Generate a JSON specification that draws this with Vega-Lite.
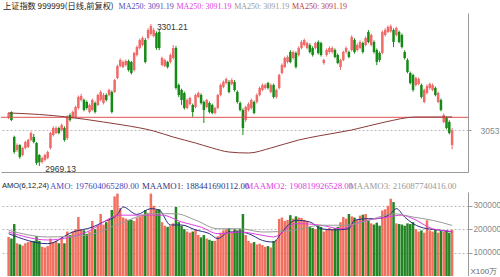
{
"$schema":"https://vega.github.io/schema/vega-lite/v6.json",
"padding":0,"spacing":0,"background":"white",
"config":{"view":{"stroke":null},"font":"Liberation Sans","concat":{"spacing":0}},
"resolve":{"scale":{"color":"independent","x":"independent"}},
"datasets":{
"k":[
{"i":0,"o":3081.4,"h":3095,"l":3079,"c":3093.1,"v":167000},
{"i":1,"o":3095.4,"h":3097,"l":3074,"c":3076.7,"v":160000},
{"i":2,"o":3036.9,"h":3040,"l":2998,"c":3001.8,"v":222000},
{"i":3,"o":3006.5,"h":3022,"l":3002,"c":3018.2,"v":140000},
{"i":4,"o":3018.2,"h":3020,"l":2986,"c":2990.1,"v":135000},
{"i":5,"o":2994.8,"h":3014,"l":2992,"c":3011.2,"v":130000},
{"i":6,"o":3011.2,"h":3028,"l":3008,"c":3025.2,"v":140000},
{"i":7,"o":3013.5,"h":3033,"l":3011,"c":3029.9,"v":145000},
{"i":8,"o":3029.9,"h":3050,"l":3027,"c":3046.3,"v":150000},
{"i":9,"o":3036.9,"h":3044,"l":3022,"c":3025.2,"v":150000},
{"i":10,"o":3022.9,"h":3025,"l":2972,"c":2976.1,"v":170000},
{"i":11,"o":2994.8,"h":2997,"l":2969.13,"c":2978,"v":150000},
{"i":12,"o":2978.5,"h":2991,"l":2975,"c":2987.8,"v":125000},
{"i":13,"o":2983.2,"h":2998,"l":2980,"c":2994.8,"v":122000},
{"i":14,"o":2987.8,"h":3005,"l":2985,"c":3001.8,"v":128000},
{"i":15,"o":3011.2,"h":3049,"l":3008,"c":3046.3,"v":160000},
{"i":16,"o":3041.6,"h":3062,"l":3038,"c":3058,"v":145000},
{"i":17,"o":3046.3,"h":3062,"l":3044,"c":3058,"v":150000},
{"i":18,"o":3058,"h":3061,"l":3043,"c":3046.3,"v":140000},
{"i":19,"o":3053.3,"h":3068,"l":3050,"c":3065,"v":165000},
{"i":20,"o":3058,"h":3062,"l":3026,"c":3029.9,"v":140000},
{"i":21,"o":3034.6,"h":3088,"l":3030,"c":3083.7,"v":190000},
{"i":22,"o":3088.4,"h":3092,"l":3073,"c":3076.7,"v":175000},
{"i":23,"o":3083.7,"h":3099,"l":3080,"c":3095.4,"v":190000},
{"i":24,"o":3083.7,"h":3110,"l":3081,"c":3107.1,"v":200000},
{"i":25,"o":3104.8,"h":3134,"l":3101,"c":3130.5,"v":252000},
{"i":26,"o":3123.5,"h":3138,"l":3120,"c":3132.8,"v":200000},
{"i":27,"o":3123.5,"h":3127,"l":3097,"c":3100.1,"v":195000},
{"i":28,"o":3118.8,"h":3122,"l":3101,"c":3104.8,"v":180000},
{"i":29,"o":3095.4,"h":3115,"l":3092,"c":3111.8,"v":190000},
{"i":30,"o":3100.1,"h":3127,"l":3098,"c":3123.5,"v":235000},
{"i":31,"o":3116.5,"h":3120,"l":3092,"c":3095.4,"v":200000},
{"i":32,"o":3111.8,"h":3138,"l":3109,"c":3135.2,"v":215000},
{"i":33,"o":3123.5,"h":3146,"l":3120,"c":3142.2,"v":265000},
{"i":34,"o":3116.5,"h":3140,"l":3113,"c":3135.2,"v":220000},
{"i":35,"o":3135.2,"h":3139,"l":3120,"c":3123.5,"v":230000},
{"i":36,"o":3135.2,"h":3150,"l":3132,"c":3146.9,"v":240000},
{"i":37,"o":3142.2,"h":3146,"l":3092,"c":3095.4,"v":282000},
{"i":38,"o":3142.2,"h":3173,"l":3140,"c":3170.2,"v":340000},
{"i":39,"o":3174.9,"h":3206,"l":3172,"c":3202.9,"v":352000},
{"i":40,"o":3203,"h":3221,"l":3200,"c":3217,"v":290000},
{"i":41,"o":3200.6,"h":3216,"l":3198,"c":3212.3,"v":250000},
{"i":42,"o":3205.3,"h":3218,"l":3202,"c":3214.6,"v":245000},
{"i":43,"o":3214.6,"h":3218,"l":3190,"c":3193.6,"v":240000},
{"i":44,"o":3212.3,"h":3215,"l":3183,"c":3186.6,"v":240000},
{"i":45,"o":3193.6,"h":3236,"l":3190,"c":3233.4,"v":235000},
{"i":46,"o":3228.7,"h":3251,"l":3225,"c":3247.4,"v":250000},
{"i":47,"o":3245.1,"h":3267,"l":3242,"c":3263.8,"v":255000},
{"i":48,"o":3252.1,"h":3272,"l":3249,"c":3268.5,"v":260000},
{"i":49,"o":3263.8,"h":3268,"l":3209,"c":3212.3,"v":282000},
{"i":50,"o":3268.5,"h":3291,"l":3265,"c":3287.2,"v":270000},
{"i":51,"o":3277.8,"h":3301.21,"l":3274,"c":3296.5,"v":352000},
{"i":52,"o":3273.2,"h":3292,"l":3270,"c":3287.2,"v":300000},
{"i":53,"o":3280.2,"h":3284,"l":3241,"c":3245.1,"v":282000},
{"i":54,"o":3282.5,"h":3290,"l":3240,"c":3245.1,"v":285000},
{"i":55,"o":3205.3,"h":3225,"l":3202,"c":3221.7,"v":230000},
{"i":56,"o":3203,"h":3220,"l":3200,"c":3217,"v":215000},
{"i":57,"o":3212.3,"h":3215,"l":3197,"c":3200.6,"v":210000},
{"i":58,"o":3212.3,"h":3232,"l":3209,"c":3228.7,"v":215000},
{"i":59,"o":3221.7,"h":3252,"l":3218,"c":3245.1,"v":225000},
{"i":60,"o":3245.1,"h":3250,"l":3148,"c":3151.5,"v":295000},
{"i":61,"o":3158.5,"h":3162,"l":3130,"c":3135.2,"v":230000},
{"i":62,"o":3146.9,"h":3150,"l":3112,"c":3123.5,"v":215000},
{"i":63,"o":3139.8,"h":3143,"l":3101,"c":3104.8,"v":200000},
{"i":64,"o":3104.8,"h":3127,"l":3102,"c":3123.5,"v":190000},
{"i":65,"o":3114,"h":3131,"l":3111,"c":3128.2,"v":185000},
{"i":66,"o":3111.8,"h":3115,"l":3084,"c":3095.4,"v":190000},
{"i":67,"o":3107.1,"h":3138,"l":3104,"c":3135.2,"v":200000},
{"i":68,"o":3130.5,"h":3143,"l":3128,"c":3139.8,"v":175000},
{"i":69,"o":3135.2,"h":3139,"l":3113,"c":3116.5,"v":165000},
{"i":70,"o":3118.8,"h":3122,"l":3069.7,"c":3100.1,"v":175000},
{"i":71,"o":3107.1,"h":3126,"l":3104,"c":3123.5,"v":160000},
{"i":72,"o":3116.5,"h":3120,"l":3092,"c":3095.4,"v":155000},
{"i":73,"o":3111.8,"h":3115,"l":3090,"c":3093.1,"v":150000},
{"i":74,"o":3093.1,"h":3108,"l":3090,"c":3104.8,"v":150000},
{"i":75,"o":3104.8,"h":3138,"l":3102,"c":3135.2,"v":170000},
{"i":76,"o":3135.2,"h":3162,"l":3132,"c":3158.5,"v":185000},
{"i":77,"o":3154,"h":3169,"l":3151,"c":3166,"v":195000},
{"i":78,"o":3163.2,"h":3176,"l":3160,"c":3172.5,"v":200000},
{"i":79,"o":3165.6,"h":3170,"l":3139,"c":3142.2,"v":205000},
{"i":80,"o":3161,"h":3174,"l":3158,"c":3170.2,"v":190000},
{"i":81,"o":3165.6,"h":3170,"l":3143,"c":3146.9,"v":200000},
{"i":82,"o":3142.2,"h":3146,"l":3115,"c":3118.8,"v":195000},
{"i":83,"o":3116.5,"h":3120,"l":3097,"c":3100.1,"v":200000},
{"i":84,"o":3100.1,"h":3104,"l":3041.6,"c":3058,"v":265000},
{"i":85,"o":3076.7,"h":3110,"l":3072,"c":3107.1,"v":175000},
{"i":86,"o":3100.1,"h":3118,"l":3097,"c":3114.1,"v":150000},
{"i":87,"o":3104.8,"h":3127,"l":3101,"c":3123.5,"v":140000},
{"i":88,"o":3118.8,"h":3122,"l":3090,"c":3093.1,"v":145000},
{"i":89,"o":3118.8,"h":3139,"l":3115,"c":3135.2,"v":135000},
{"i":90,"o":3135.2,"h":3155,"l":3132,"c":3151.5,"v":138000},
{"i":91,"o":3146.9,"h":3162,"l":3144,"c":3158.5,"v":132000},
{"i":92,"o":3151.5,"h":3162,"l":3148,"c":3158.5,"v":125000},
{"i":93,"o":3163.2,"h":3166,"l":3148,"c":3151.5,"v":128000},
{"i":94,"o":3142.2,"h":3162,"l":3139,"c":3158.5,"v":122000},
{"i":95,"o":3158.5,"h":3162,"l":3127,"c":3130.5,"v":150000},
{"i":96,"o":3130.5,"h":3150,"l":3127,"c":3146.9,"v":155000},
{"i":97,"o":3151.5,"h":3185,"l":3148,"c":3181.9,"v":244000},
{"i":98,"o":3186.6,"h":3209,"l":3183,"c":3205.3,"v":250000},
{"i":99,"o":3200.6,"h":3225,"l":3198,"c":3221.7,"v":235000},
{"i":100,"o":3212.3,"h":3228,"l":3209,"c":3224,"v":240000},
{"i":101,"o":3235.7,"h":3240,"l":3209,"c":3212.3,"v":260000},
{"i":102,"o":3221.7,"h":3239,"l":3218,"c":3235.7,"v":245000},
{"i":103,"o":3233.4,"h":3237,"l":3197,"c":3200.6,"v":255000},
{"i":104,"o":3228.7,"h":3249,"l":3225,"c":3245.1,"v":250000},
{"i":105,"o":3245.1,"h":3263,"l":3242,"c":3259.1,"v":248000},
{"i":106,"o":3252.1,"h":3267,"l":3249,"c":3263.8,"v":240000},
{"i":107,"o":3245.1,"h":3260,"l":3242,"c":3256.8,"v":235000},
{"i":108,"o":3252.1,"h":3256,"l":3232,"c":3235.7,"v":210000},
{"i":109,"o":3245.1,"h":3249,"l":3225,"c":3228.7,"v":205000},
{"i":110,"o":3245.1,"h":3260,"l":3242,"c":3256.8,"v":200000},
{"i":111,"o":3259.1,"h":3263,"l":3230,"c":3233.4,"v":215000},
{"i":112,"o":3256.8,"h":3260,"l":3225,"c":3228.7,"v":210000},
{"i":113,"o":3210,"h":3220,"l":3206,"c":3217,"v":190000},
{"i":114,"o":3228.7,"h":3244,"l":3225,"c":3240.4,"v":200000},
{"i":115,"o":3235.7,"h":3249,"l":3232,"c":3245.1,"v":205000},
{"i":116,"o":3235.7,"h":3249,"l":3232,"c":3245.1,"v":200000},
{"i":117,"o":3240.4,"h":3244,"l":3221,"c":3224,"v":205000},
{"i":118,"o":3228.7,"h":3232,"l":3207,"c":3210,"v":210000},
{"i":119,"o":3200.6,"h":3220,"l":3193.6,"c":3217,"v":230000},
{"i":120,"o":3217,"h":3239,"l":3214,"c":3235.7,"v":252000},
{"i":121,"o":3235.7,"h":3249,"l":3232,"c":3245.1,"v":245000},
{"i":122,"o":3235.7,"h":3239,"l":3221,"c":3224,"v":265000},
{"i":123,"o":3240.4,"h":3275,"l":3237,"c":3270.8,"v":255000},
{"i":124,"o":3263.8,"h":3268,"l":3232,"c":3235.7,"v":250000},
{"i":125,"o":3240.4,"h":3256,"l":3237,"c":3252.1,"v":240000},
{"i":126,"o":3245.1,"h":3263,"l":3242,"c":3259.1,"v":258000},
{"i":127,"o":3256.8,"h":3260,"l":3232,"c":3235.7,"v":262000},
{"i":128,"o":3252.1,"h":3272,"l":3249,"c":3268.5,"v":265000},
{"i":129,"o":3282.5,"h":3287,"l":3256,"c":3259.1,"v":235000},
{"i":130,"o":3252.1,"h":3279,"l":3249,"c":3275.5,"v":225000},
{"i":131,"o":3259.1,"h":3263,"l":3232,"c":3235.7,"v":220000},
{"i":132,"o":3240.4,"h":3244,"l":3205,"c":3212.3,"v":228000},
{"i":133,"o":3233.4,"h":3237,"l":3212,"c":3217,"v":215000},
{"i":134,"o":3233.4,"h":3286,"l":3230,"c":3282.5,"v":280000},
{"i":135,"o":3275.5,"h":3291,"l":3272,"c":3287.2,"v":285000},
{"i":136,"o":3282.5,"h":3298,"l":3280,"c":3294.2,"v":300000},
{"i":137,"o":3284,"h":3300,"l":3281,"c":3296,"v":330000},
{"i":138,"o":3287.2,"h":3291,"l":3247,"c":3259.1,"v":316000},
{"i":139,"o":3275.5,"h":3295,"l":3272,"c":3292,"v":225000},
{"i":140,"o":3282.5,"h":3286,"l":3256,"c":3259.1,"v":222000},
{"i":141,"o":3275.5,"h":3279,"l":3244,"c":3247.4,"v":220000},
{"i":142,"o":3235.7,"h":3240,"l":3218,"c":3221.7,"v":215000},
{"i":143,"o":3217,"h":3221,"l":3186,"c":3188.9,"v":225000},
{"i":144,"o":3186.6,"h":3190,"l":3160,"c":3163.2,"v":222000},
{"i":145,"o":3181.9,"h":3185,"l":3143,"c":3146.9,"v":230000},
{"i":146,"o":3158.5,"h":3178,"l":3155,"c":3174.9,"v":200000},
{"i":147,"o":3161,"h":3176,"l":3158,"c":3172.5,"v":190000},
{"i":148,"o":3158.5,"h":3162,"l":3127,"c":3130.5,"v":195000},
{"i":149,"o":3118.8,"h":3150,"l":3116,"c":3146.9,"v":185000},
{"i":150,"o":3139.8,"h":3160,"l":3136,"c":3156.2,"v":238000},
{"i":151,"o":3151.5,"h":3164,"l":3148,"c":3161,"v":195000},
{"i":152,"o":3146.9,"h":3162,"l":3144,"c":3158.5,"v":190000},
{"i":153,"o":3151.5,"h":3155,"l":3132,"c":3135.2,"v":200000},
{"i":154,"o":3118.8,"h":3143,"l":3116,"c":3139.8,"v":185000},
{"i":155,"o":3123.5,"h":3127,"l":3097,"c":3100.1,"v":195000},
{"i":156,"o":3072,"h":3092,"l":3069,"c":3088.4,"v":190000},
{"i":157,"o":3081.4,"h":3085,"l":3055,"c":3058,"v":195000},
{"i":158,"o":3072,"h":3076,"l":3043,"c":3046.3,"v":185000},
{"i":159,"o":3018.2,"h":3058,"l":3008,"c":3053.3,"v":197604}
],
"ma":[
{"i":0,"m":3093.1},{"i":11,"m":3089.6},{"i":21,"m":3083.7},{"i":34,"m":3072},{"i":41,"m":3065},{"i":52,"m":3051},{"i":59,"m":3036.9},{"i":67,"m":3022.9},{"i":73,"m":3011.2},{"i":79,"m":3001.8},{"i":86,"m":2999.5},{"i":94,"m":3011.2},{"i":104,"m":3029.9},{"i":111,"m":3039.3},{"i":123,"m":3053.3},{"i":135,"m":3072},{"i":146,"m":3083.7},{"i":158,"m":3083.7},{"i":159,"m":3084}
],
"vma":[
{"i":0,"s":"1","v":181000},{"i":14,"s":"1","v":138000},{"i":23,"s":"1","v":188000},{"i":30,"s":"1","v":209000},{"i":34,"s":"1","v":231000},{"i":39,"s":"1","v":263000},{"i":41,"s":"1","v":295000},{"i":46,"s":"1","v":263000},{"i":51,"s":"1","v":288000},{"i":54,"s":"1","v":282000},{"i":58,"s":"1","v":218000},{"i":62,"s":"1","v":218000},{"i":67,"s":"1","v":197000},{"i":72,"s":"1","v":181000},{"i":75,"s":"1","v":160000},{"i":79,"s":"1","v":188000},{"i":83,"s":"1","v":188000},{"i":86,"s":"1","v":181000},{"i":91,"s":"1","v":152000},{"i":95,"s":"1","v":145000},{"i":98,"s":"1","v":188000},{"i":103,"s":"1","v":238000},{"i":108,"s":"1","v":231000},{"i":112,"s":"1","v":202000},{"i":117,"s":"1","v":197000},{"i":122,"s":"1","v":202000},{"i":124,"s":"1","v":238000},{"i":129,"s":"1","v":245000},{"i":132,"s":"1","v":245000},{"i":137,"s":"1","v":266000},{"i":139,"s":"1","v":288000},{"i":142,"s":"1","v":252000},{"i":145,"s":"1","v":224000},{"i":150,"s":"1","v":202000},{"i":154,"s":"1","v":197000},{"i":159,"s":"1","v":188442},
{"i":0,"s":"2","v":188000},{"i":14,"s":"2","v":154000},{"i":28,"s":"2","v":188000},{"i":40,"s":"2","v":260000},{"i":46,"s":"2","v":260000},{"i":55,"s":"2","v":260000},{"i":62,"s":"2","v":231000},{"i":69,"s":"2","v":209000},{"i":75,"s":"2","v":181000},{"i":83,"s":"2","v":188000},{"i":91,"s":"2","v":174000},{"i":95,"s":"2","v":167000},{"i":103,"s":"2","v":224000},{"i":112,"s":"2","v":217000},{"i":119,"s":"2","v":202000},{"i":126,"s":"2","v":231000},{"i":136,"s":"2","v":252000},{"i":141,"s":"2","v":260000},{"i":145,"s":"2","v":245000},{"i":152,"s":"2","v":202000},{"i":159,"s":"2","v":190820},
{"i":0,"s":"3","v":195000},{"i":14,"s":"3","v":167000},{"i":28,"s":"3","v":174000},{"i":40,"s":"3","v":224000},{"i":51,"s":"3","v":266000},{"i":60,"s":"3","v":266000},{"i":67,"s":"3","v":239000},{"i":75,"s":"3","v":202000},{"i":83,"s":"3","v":202000},{"i":91,"s":"3","v":188000},{"i":102,"s":"3","v":195000},{"i":112,"s":"3","v":217000},{"i":121,"s":"3","v":217000},{"i":129,"s":"3","v":238000},{"i":138,"s":"3","v":266000},{"i":145,"s":"3","v":252000},{"i":152,"s":"3","v":238000},{"i":159,"s":"3","v":216088}
],
"h1":[
{"k":"a","t":"上证指数 999999(日线,前复权)"},
{"k":"b","t":"MA250: 3091.19"},
{"k":"c","t":"MA250: 3091.19"},
{"k":"d","t":"MA250: 3091.19"},
{"k":"e","t":"MA250: 3091.19"}
],
"h2":[
{"k":"a","t":"AMO(6,12,24)"},
{"k":"b","t":"AMO: 197604065280.00"},
{"k":"c","t":"MAAMO1: 188441690112.00"},
{"k":"d","t":"MAAMO2: 190819926528.00"},
{"k":"e","t":"MAAMO3: 216087740416.00"}
],
"ann":[
{"i":51,"p":3301.21,"t":"3301.21"},
{"i":11,"p":2969.13,"t":"2969.13"}
]
},
"vconcat":[
{"width":467,"height":13,
 "layer":[
  {"data":{"name":"h1"},"transform":[{"filter":"datum.k == 'a'"}],
   "mark":{"type":"text","align":"left","baseline":"middle","fontSize":8.2,"font":"Noto Sans CJK SC","dx":2},
   "encoding":{"x":{"field":"k","type":"nominal","axis":null,"scale":{"type":"point","domain":["a","x1","b","c","d","e"],"range":[0,289],"padding":0}},
    "text":{"field":"t"},"color":{"value":"#222222"}}},
  {"data":{"name":"h1"},"transform":[{"filter":"datum.k != 'a'"}],
   "mark":{"type":"text","align":"left","baseline":"middle","fontSize":8,"font":"Liberation Sans Narrow","dx":2},
   "encoding":{"x":{"field":"k","type":"nominal"},
    "text":{"field":"t"},
    "color":{"field":"k","legend":null,"scale":{"domain":["b","c","d","e"],"range":["#4a4ab8","#e040e0","#999999","#c03a3a"]}}}}
 ]},
{"width":467,"height":159,
 "layer":[
  {"data":{"name":"k"},"mark":{"type":"rule","strokeWidth":1},
   "encoding":{"x":{"field":"i","type":"quantitative","scale":{"domain":[-0.947,162.91],"nice":false,"zero":false},
     "axis":{"labels":false,"ticks":false,"grid":false,"domain":true,"domainColor":"#999","title":null}},
    "y":{"field":"l","type":"quantitative","scale":{"domain":[2955.1,3326.9],"nice":false,"zero":false},
     "axis":{"orient":"right","values":[3053],"format":"d","grid":true,"gridDash":[2,2],"gridColor":"#bbbbbb","domainColor":"#999","tickColor":"#999","labelColor":"#888","labelFontSize":8.5,"tickSize":3,"title":null,"labelPadding":9}},
    "y2":{"field":"h"},
    "color":{"condition":{"test":"datum.c >= datum.o","value":"#f06a6a"},"value":"#168a16"}}},
  {"data":{"name":"k"},"mark":{"type":"bar","size":2.5},
   "encoding":{"x":{"field":"i","type":"quantitative"},"y":{"field":"o","type":"quantitative"},"y2":{"field":"c"},
    "color":{"condition":{"test":"datum.c >= datum.o","value":"#f06a6a"},"value":"#168a16"}}},
  {"data":{"values":[{"p":3083}]},"mark":{"type":"rule","color":"#e05050","strokeWidth":1},"encoding":{"y":{"field":"p","type":"quantitative"}}},
  {"data":{"name":"ma"},"mark":{"type":"line","color":"#8b3a3a","strokeWidth":1,"interpolate":"monotone"},
   "encoding":{"x":{"field":"i","type":"quantitative"},"y":{"field":"m","type":"quantitative"}}},
  {"data":{"name":"ann"},"mark":{"type":"text","align":"left","baseline":"middle","dx":6,"dy":3,"fontSize":8.5,"color":"#333"},
   "encoding":{"x":{"field":"i","type":"quantitative"},"y":{"field":"p","type":"quantitative"},"text":{"field":"t"}}}
 ]},
{"width":467,"height":18,
 "layer":[
  {"data":{"name":"h2"},"transform":[{"filter":"datum.k == 'a'"}],
   "mark":{"type":"text","align":"left","baseline":"middle","fontSize":7.5,"dx":1,"dy":3,"color":"#222222"},
   "encoding":{"x":{"field":"k","type":"nominal","axis":null,"scale":{"type":"point","domain":["a","1","2","3","b","5","6","7","8","9","10","11","c","13","14","15","16","17","18","19","20","d","22","23","24","25","26","27","28","29","e"],"range":[0,345],"padding":0}},
    "text":{"field":"t"}}},
  {"data":{"name":"h2"},"transform":[{"filter":"datum.k != 'a'"}],
   "mark":{"type":"text","align":"left","baseline":"middle","fontSize":8.8,"font":"Liberation Sans Narrow","dx":3,"dy":3},
   "encoding":{"x":{"field":"k","type":"nominal"},
    "text":{"field":"t"},
    "color":{"field":"k","legend":null,"scale":{"domain":["b","c","d","e"],"range":["#4a4ab8","#333380","#e040e0","#999999"]}}}}
 ]},
{"width":467,"height":84,
 "layer":[
  {"data":{"name":"k"},"mark":{"type":"bar","size":2.5},
   "encoding":{"x":{"field":"i","type":"quantitative","scale":{"domain":[-0.947,162.91],"nice":false,"zero":false},"axis":null},
    "y":{"field":"v","type":"quantitative","scale":{"domain":[0,359000],"nice":false},
     "axis":{"orient":"right","values":[100000,200000,300000],"format":"d","grid":true,"gridDash":[2,2],"gridColor":"#bbbbbb","domainColor":"#999","tickColor":"#999","labelColor":"#888","labelFontSize":8.3,"tickSize":4,"labelPadding":1,"title":"X100万","titleAngle":0,"titleFontSize":8,"titleFontWeight":"normal","titleColor":"#666","titleX":2,"titleY":83,"titleAlign":"left","titleBaseline":"bottom"}},
    "color":{"condition":{"test":"datum.c >= datum.o","value":"#f2705f"},"value":"#238423"}}},
  {"data":{"name":"vma"},"mark":{"type":"line","strokeWidth":1,"interpolate":"monotone"},
   "encoding":{"x":{"field":"i","type":"quantitative"},"y":{"field":"v","type":"quantitative"},
    "color":{"field":"s","legend":null,"scale":{"domain":["1","2","3"],"range":["#2a2a80","#e040e0","#999999"]}}}}
 ]}
]
}
